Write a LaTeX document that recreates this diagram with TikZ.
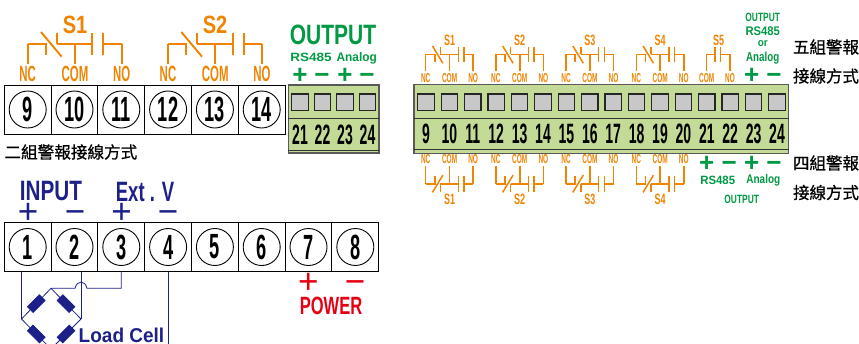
\documentclass[tikz,border=0pt]{standalone}
\usepackage{fontspec}
\usetikzlibrary{calc}
\setmainfont{Liberation Sans}
\newfontfamily\cjk[FakeBold=0.6]{Noto Sans CJK TC}
\definecolor{orng}{HTML}{F08300}
\definecolor{grn}{HTML}{009944}
\definecolor{navy}{HTML}{1D2088}
\definecolor{rd}{HTML}{E60012}
\definecolor{blockg}{HTML}{C3DB96}
\definecolor{sq}{HTML}{C8C8C8}
\newcommand\nt[3]{\scalebox{#1}[1]{\fontsize{#2}{#2}\selectfont #3}}
\newcommand\bnt[3]{\scalebox{#1}[1]{\fontsize{#2}{#2}\selectfont\bfseries #3}}
\newcommand\lblB[1]{\bnt{.52}{22}{#1}}
\newcommand\lblS[1]{\bnt{.5}{13}{#1}}
\tikzset{
  txt/.style={inner sep=0pt,outer sep=0pt},
  sign/.style={inner sep=0pt,outer sep=0pt,anchor=base},
  lab/.style={inner sep=0pt,outer sep=2pt,text=orng},
  wireB/.style={draw=orng,line width=1.9pt},
  wireS/.style={draw=orng,line width=1.5pt},
  cell/.style={draw=black,line width=1pt,fill=white,minimum width=46.8pt,minimum height=49pt,inner sep=0pt,outer sep=0pt},
  num/.style={draw=black,line width=.9pt,circle,minimum size=37pt,inner sep=0pt},
  gblock/.style={draw=black!65,line width=1.3pt,fill=blockg,inner sep=0pt,outer sep=0pt},
  sqr/.style={draw=black!85,line width=1.2pt,fill=sq,minimum size=16.5pt,inner sep=0pt},
  gline/.style={draw=black!80,line width=.9pt},
  bl/.style={draw=navy,line width=.8pt},
  res/.style={fill=navy,draw=navy,minimum width=17pt,minimum height=8pt,inner sep=0pt},
}
% name, x, y of wire, xscale, yscale, y of labels, label macro, wire style
\newcommand\relay[8]{%
  \begin{scope}[shift={(#2,#3)},xscale=#4,yscale=#5]
    \coordinate (#1nc) at (0,0);
    \coordinate (#1l) at (18,0);
    \coordinate (#1r) at (29,0);
    \coordinate (#1c) at (47.3,0);
    \coordinate (#1b) at (64.6,0);
    \coordinate (#1d) at (75.6,0);
    \coordinate (#1no) at (94,0);
    \draw[#8] (#1nc) -- (#1l) -- ++(0,11);
    \draw[#8] (#1r) -- ++(0,-11);
    \draw[#8] (#1r) -- (#1b);
    \draw[#8] (#1b) ++(0,-11) -- ++(0,22);
    \draw[#8] (#1d) ++(0,-11) -- ++(0,22);
    \draw[#8] (#1d) -- (#1no);
    \draw[#8] (13.3,-12) -- (34,12.7);
  \end{scope}
  \coordinate (#1ly) at (0,#6);
  \node[lab] (#1NCl) at (#1nc |- #1ly) {#7{NC}};
  \node[lab] (#1COMl) at (#1c |- #1ly) {#7{COM}};
  \node[lab] (#1NOl) at (#1no |- #1ly) {#7{NO}};
  \draw[#8] (#1NCl) -- (#1nc);
  \draw[#8] (#1COMl) -- (#1c);
  \draw[#8] (#1NOl) -- (#1no);
}
\begin{document}
\begin{tikzpicture}[x=1pt,y=-1pt]
\useasboundingbox (0,0) rectangle (859,343);
\clip (0,0) rectangle (859,343);
% ---------- top-left relays
\relay{a}{27.7}{44}{1}{1}{74}{\lblB}{wireB}
\relay{b}{168}{44}{1}{1}{74}{\lblB}{wireB}
\node[txt,text=orng] (ta) at (75,25) {\bnt{.8}{25}{S1}};
\node[txt,text=orng] (tb) at (215,25) {\bnt{.8}{25}{S2}};
% ---------- terminals 9-14
\foreach \n [count=\i from 0] in {9,10,11,12,13,14}{
  \node[cell] (c\n) at ({27.7+46.8*\i},109.5) {};
  \node[num] (n\n) at (c\n) {\bnt{.52}{35}{\n}};
}
\node[txt,anchor=west] (cap2) at (4.5,152) {\cjk\fontsize{16.6}{16.6}\selectfont 二組警報接線方式};
% ---------- small output block
\node[gblock,minimum width=90.5pt,minimum height=68pt] (g1) at (333.6,119) {};
\draw[gline] (g1.west |- 0,118) -- (g1.east |- 0,118);
\draw[gline] (g1.west |- 0,150) -- (g1.east |- 0,150);
\foreach \n/\x in {21/300,22/322.5,23/345,24/367.5}{
  \node[sqr] (sq\n) at (\x,102.3) {};
  \node[txt] (lb\n) at (\x,135) {\bnt{.5}{28}{\n}};
}
\node[txt,text=grn] (outb) at (333,35) {\bnt{.75}{28}{OUTPUT}};
\node[txt,text=grn] (rsb) at (311,57.5) {\bnt{1.13}{12}{RS485}};
\node[txt,text=grn] (anb) at (356.7,58) {\bnt{.95}{12.5}{Analog}};
\foreach \nm/\x/\s in {pa/300/+,ma/322/−,pb/345/+,mb/367/−}{
  \node[sign,text=grn] (\nm) at (\x,83.6) {\bnt{1}{26}{\s}};
}
% ---------- terminals 1-8
\foreach \n [count=\i from 0] in {1,2,3,4,5,6,7,8}{
  \node[cell] (c\n) at ({27.7+46.8*\i},247) {};
  \node[num] (n\n) at (c\n) {\bnt{.52}{35}{\n}};
}
\node[txt,text=navy] (inp) at (51,191.5) {\bnt{.74}{28}{INPUT}};
\node[txt,text=navy] (ext) at (145,191.5) {\bnt{.66}{28}{Ext . V}};
\foreach \nm/\x/\s in {pc/28/+,mc/75/−,pd/121.5/+,md/168/−}{
  \node[sign,text=navy] (\nm) at (\x,223) {\nt{1}{35}{\s}};
}
\node[txt,text=rd] (pw) at (331,306) {\bnt{.66}{25}{POWER}};
\node[sign,text=rd] (pe) at (308.3,293.5) {\nt{1}{35}{+}};
\node[sign,text=rd] (pf) at (355,293.5) {\nt{1}{35}{−}};
% ---------- load cell
\coordinate (brT) at (51,288.3);
\coordinate (brL) at (21.5,319);
\coordinate (brR) at (81,319);
\coordinate (brB) at (51,349);
\coordinate (j1) at (87,288.3);
\coordinate (j2) at (75,288.3);
\coordinate (e4) at (168.3,350);
\draw[bl] (c1.south -| brL) -- (brL);
\draw[bl] (c2.south -| brR) -- (brR);
\draw[bl] (c3.south) |- (j1) .. controls (85,280) and (77,280) .. (j2) -- (brT);
\draw[bl] (c4.south -| e4) -- (e4);
\draw[bl] (brL) -- node[res,rotate=45] (r1) {} (brT);
\draw[bl] (brT) -- node[res,rotate=-45] (r2) {} (brR);
\draw[bl] (brL) -- node[res,rotate=-45] (r3) {} (brB);
\draw[bl] (brB) -- node[res,rotate=45] (r4) {} (brR);
\node[txt,text=navy,anchor=base] (lc) at (121.5,342.5) {\bnt{.95}{20}{Load Cell}};
% ---------- large block
\node[gblock,minimum width=374.7pt,minimum height=68.6pt] (g2) at (601.3,119) {};
\draw[gline] (g2.west |- 0,118.3) -- (g2.east |- 0,118.3);
\draw[gline] (g2.west |- 0,149) -- (g2.east |- 0,149);
\foreach \n [count=\i from 0] in {9,10,11,12,13,14,15,16,17,18,19,20,21,22,23,24}{
  \node[sqr] (s\n) at ({426+23.4*\i},102.3) {};
  \node[txt] (d\n) at ({426+23.4*\i},134) {\bnt{.5}{28}{\n}};
}
% top small relays
\foreach \k/\x/\tx in {1/425.7/449.5,2/495.9/519.7,3/566.1/589.9,4/636.3/660.1}{
  \relay{u\k}{\x}{54.3}{.505}{.7}{78}{\lblS}{wireS}
  \node[txt,text=orng] (tu\k) at (\tx,40) {\bnt{.6}{15}{S\k}};
  \relay{v\k}{\x}{184}{.505}{-.7}{159.3}{\lblS}{wireS}
  \node[txt,text=orng] (tv\k) at (\tx,199) {\bnt{.6}{15}{S\k}};
}
% S5
\coordinate (s5a) at (706.7,54.3);
\coordinate (s5b) at (715,54.3);
\coordinate (s5c) at (720.3,54.3);
\coordinate (s5d) at (730,54.3);
\node[lab] (s5com) at (706.7,78) {\lblS{COM}};
\node[lab] (s5no) at (730,78) {\lblS{NO}};
\draw[wireS] (s5com) -- (s5a) -- (s5b);
\draw[wireS] (s5no) -- (s5d) -- (s5c);
\draw[wireS] (s5b) ++(0,-7.7) -- ++(0,15.4);
\draw[wireS] (s5c) ++(0,-7.7) -- ++(0,15.4);
\node[txt,text=orng] (ts5) at (718.7,40) {\bnt{.6}{15}{S5}};
% right labels top
\node[txt,text=grn] (o1) at (762.7,17) {\bnt{.7}{12}{OUTPUT}};
\node[txt,text=grn] (o2) at (762.7,30.7) {\bnt{.9}{12.5}{RS485}};
\node[txt,text=grn] (o3) at (762.7,44) {\bnt{.9}{11}{or}};
\node[txt,text=grn] (o4) at (762.7,58) {\bnt{.75}{13}{Analog}};
\node[sign,text=grn] (p5) at (751.7,83.6) {\bnt{1}{26}{+}};
\node[sign,text=grn] (m5) at (774,83.6) {\bnt{1}{26}{−}};
% right labels bottom
\foreach \nm/\x/\s in {p6/706.7/+,m6/729.3/−,p7/751.7/+,m7/774/−}{
  \node[sign,text=grn] (\nm) at (\x,171.6) {\bnt{1}{26}{\s}};
}
\node[txt,text=grn] (o5) at (717.7,180) {\bnt{.95}{12}{RS485}};
\node[txt,text=grn] (o6) at (763.3,180) {\bnt{.8}{12.5}{Analog}};
\node[txt,text=grn] (o7) at (741.7,199) {\bnt{.7}{12}{OUTPUT}};
% Chinese captions
\node[txt,anchor=west] (k1) at (793,47) {\cjk\fontsize{16.5}{16.5}\selectfont 五組警報};
\node[txt,anchor=west] (k2) at (793,76) {\cjk\fontsize{16.5}{16.5}\selectfont 接線方式};
\node[txt,anchor=west] (k3) at (793,163) {\cjk\fontsize{16.5}{16.5}\selectfont 四組警報};
\node[txt,anchor=west] (k4) at (793,192.5) {\cjk\fontsize{16.5}{16.5}\selectfont 接線方式};
\end{tikzpicture}
\end{document}
